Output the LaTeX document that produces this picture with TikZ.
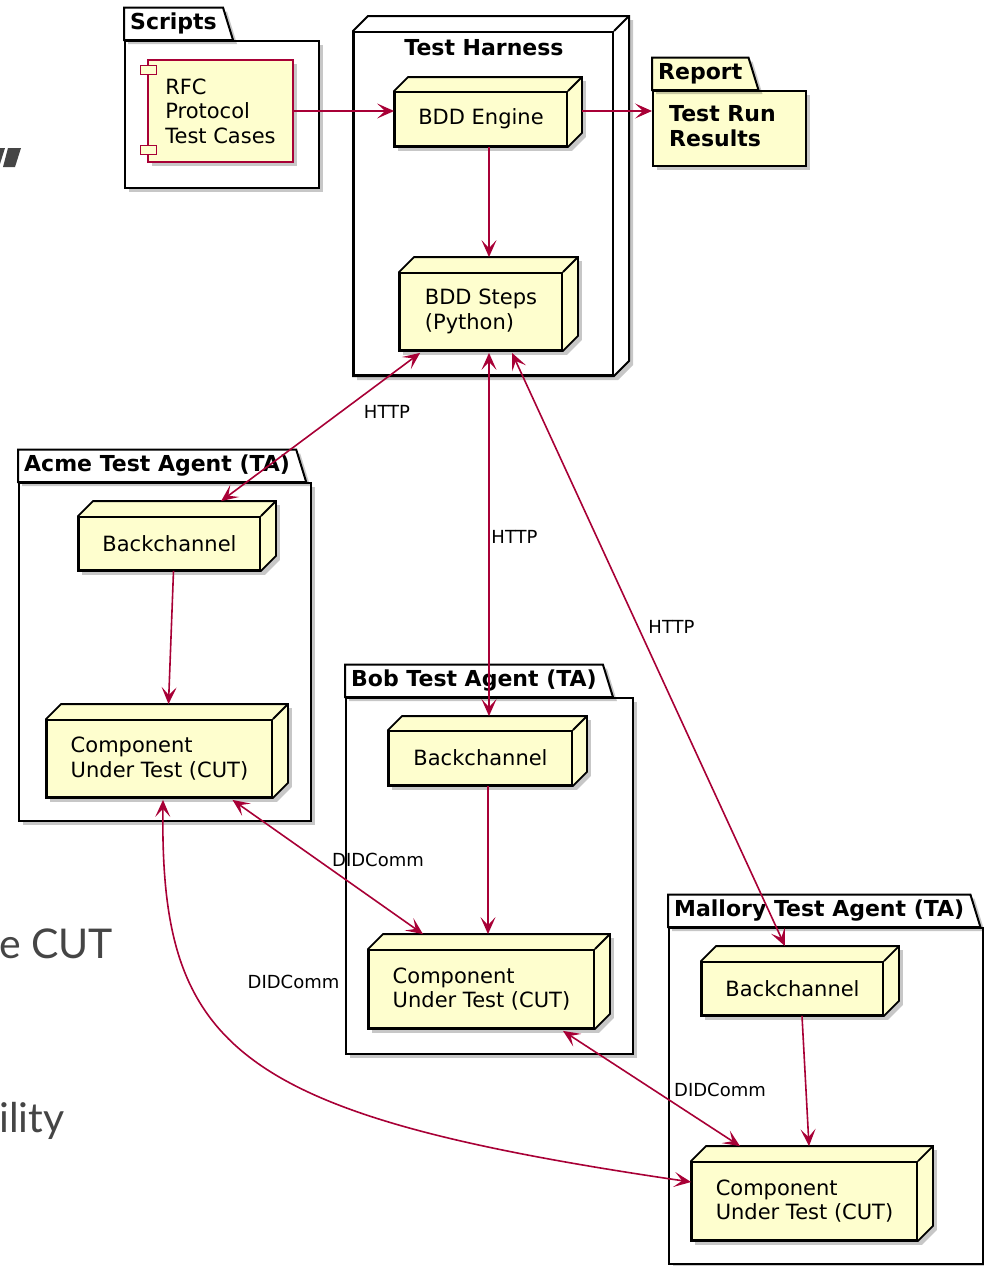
\documentclass[tikz,border=0pt]{standalone}
\usepackage{fontspec}
\setmainfont{DejaVu Sans}
\newfontfamily\slidefont{Lato}
\usetikzlibrary{arrows.meta,shadows,calc}
\definecolor{umlred}{HTML}{A80036}
\definecolor{umlfill}{HTML}{FEFECE}
\definecolor{slidegray}{HTML}{454545}
\pgfdeclarelayer{bg}
\pgfdeclarelayer{pkg}
\pgfdeclarelayer{faces}
\pgfsetlayers{bg,pkg,faces,main}
\tikzset{
  shad/.style={drop shadow={shadow xshift=4pt, shadow yshift=-4pt, opacity=0.22, fill=black}},
  cube/.style={draw=black, line width=1.8pt, fill=umlfill, font=\fontsize{21}{24.5}\selectfont, align=left, inner sep=0pt},
  cubeface/.style={draw=black, line width=1.8pt, fill=umlfill, line join=miter, shad},
  whiteface/.style={draw=black, line width=2pt, fill=white, line join=miter, shad},
  pkgbody/.style={draw=black, line width=2pt, fill=white, shad, inner sep=0pt, anchor=north west},
  pkgtab/.style={draw=black, line width=2pt, fill=white, shad, line join=miter},
  pkgtitle/.style={font=\bfseries\fontsize{22}{25}\selectfont, inner xsep=6pt, inner ysep=0pt, minimum height=32pt, anchor=south west},
  arr/.style={draw=umlred, line width=1.6pt, -{Stealth[length=17pt,width=15pt,inset=8pt]}},
  biarr/.style={draw=umlred, line width=1.6pt, {Stealth[length=17pt,width=15pt,inset=8pt]}-{Stealth[length=17pt,width=15pt,inset=8pt]}},
  lbl/.style={font=\fontsize{18}{21}\selectfont, inner sep=0pt},
  slide/.style={font=\slidefont\fontsize{41}{48}\selectfont, text=slidegray, inner sep=0pt, anchor=base west},
}
\newcommand{\cubeback}[2]{%
  \begin{pgfonlayer}{faces}
    \path[cubeface] (#1.south west) -- (#1.north west) -- ++(#2,-#2) -- ($(#1.north east)+(#2,-#2)$) -- ($(#1.south east)+(#2,-#2)$) -- (#1.south east) -- cycle;
    \draw[line width=1.8pt] (#1.north east) -- ++(#2,-#2);
  \end{pgfonlayer}}
\newcommand{\pkgframe}[2]{% title node, fill colour
  \begin{pgfonlayer}{pkg}
    \path[pkgtab, fill=#2] (#1.south west) -- (#1.north west) -- (#1.north east) -- ($(#1.south east)+(10,0)$) -- cycle;
  \end{pgfonlayer}}
\begin{document}
\begin{tikzpicture}[x=1pt,y=-1pt]
\useasboundingbox (0,0) rectangle (984,1266);

% slide fragments in the background
\fill[slidegray] (-5,148) -- (5,148) -- (-1,167) -- (-10,167) -- cycle;
\fill[slidegray] (8,148) -- (21,148) -- (15,167) -- (3,167) -- cycle;
\node[slide] (frag1) at (-1,958) {e CUT};
\node[slide] (frag2) at (-1,1132) {ility};

% ---------- packages ----------
\begin{pgfonlayer}{pkg}
  \node[pkgbody, minimum width=194pt, minimum height=147pt] (scripts) at (124,40) {};
  \node[pkgbody, minimum width=153pt, minimum height=75pt, fill=umlfill] (rep) at (652,90) {};
  \node[pkgbody, minimum width=292pt, minimum height=338pt] (acme) at (18,482) {};
  \node[pkgbody, minimum width=287pt, minimum height=356pt] (bob) at (345,697) {};
  \node[pkgbody, minimum width=314pt, minimum height=336pt] (mal) at (668,927) {};
  \node[draw=black, line width=2pt, fill=white, minimum width=259pt, minimum height=343pt, inner sep=0pt] (th) at (483.5,203.5) {};
\end{pgfonlayer}
\begin{pgfonlayer}{bg}
  \path[whiteface] (th.south west) -- (th.north west) -- ++(15,-15) -- ($(th.north east)+(15,-15)$) -- ($(th.south east)+(15,-15)$) -- (th.south east) -- cycle;
  \draw[line width=2pt] (th.north east) -- ++(15,-15);
\end{pgfonlayer}

\node[pkgtitle] (scriptsT) at (scripts.north west) {Scripts};
\node[pkgtitle] (repT) at (rep.north west) {Report};
\node[pkgtitle] (acmeT) at (acme.north west) {Acme Test Agent (TA)};
\node[pkgtitle] (bobT) at (bob.north west) {Bob Test Agent (TA)};
\node[pkgtitle] (malT) at (mal.north west) {Mallory Test Agent (TA)};
\pkgframe{scriptsT}{white}
\pkgframe{repT}{umlfill}
\pkgframe{acmeT}{white}
\pkgframe{bobT}{white}
\pkgframe{malT}{white}

\node[font=\bfseries\fontsize{22}{25}\selectfont, inner sep=0pt] (thT) at (484,48) {Test Harness};
\node[font=\bfseries\fontsize{22}{25}\selectfont, align=left, inner sep=0pt, anchor=west] (repTxt) at (669,126) {Test Run\\Results};

% ---------- component ----------
\node[draw=umlred, line width=1.6pt, fill=umlfill, shad, minimum width=145pt, minimum height=102pt, inner sep=0pt, align=left, font=\fontsize{21}{24.5}\selectfont] (rfc) at (220.5,111) {RFC\\Protocol\\Test Cases};
\draw[draw=umlred, line width=1.3pt, fill=umlfill] ($(rfc.north west)+(-7,6)$) rectangle ++(16,9);
\draw[draw=umlred, line width=1.3pt, fill=umlfill] ($(rfc.north west)+(-7,86)$) rectangle ++(16,9);

% ---------- 3D nodes ----------
\node[cube, minimum width=172pt, minimum height=54pt] (be) at (481,119) {BDD Engine};
\node[cube, minimum width=162pt, minimum height=77pt] (steps) at (481,311.5) {BDD Steps\\(Python)};
\node[cube, minimum width=181pt, minimum height=53pt] (abc) at (169.5,543.5) {Backchannel};
\node[cube, minimum width=225pt, minimum height=77pt] (acut) at (159.5,758.5) {Component\\Under Test (CUT)};
\node[cube, minimum width=183pt, minimum height=54pt] (bbc) at (480.5,758) {Backchannel};
\node[cube, minimum width=225pt, minimum height=78pt] (bcut) at (481.5,989) {Component\\Under Test (CUT)};
\node[cube, minimum width=181pt, minimum height=53pt] (mbc) at (792.5,988.5) {Backchannel};
\node[cube, minimum width=225pt, minimum height=78pt] (mcut) at (804.5,1201) {Component\\Under Test (CUT)};
\cubeback{be}{14}
\cubeback{steps}{15}
\cubeback{abc}{15}
\cubeback{acut}{15}
\cubeback{bbc}{14}
\cubeback{bcut}{15}
\cubeback{mbc}{15}
\cubeback{mcut}{15}

% ---------- connectors ----------
\draw[arr] (rfc.east) -- (rfc.east -| be.west);
\coordinate (beOut) at ($(be.east)+(14,-8)$);
\draw[arr] (beOut) -- (beOut -| rep.west);
\draw[arr] ($(be.south)+(8,0)$) -- ($(steps.north)+(8,-15)$);

\draw[biarr] ($(steps.south west)+(21,2)$) -- ($(abc.north west)+(143,-15)$);
\draw[biarr] ($(steps.south)+(8,2)$) -- ($(bbc.north)+(8.5,-14)$);
\draw[biarr] ($(steps.south)+(31,2)$) -- ($(mbc.north)+(-7.5,-15)$);
\node[lbl] (h1) at (387,412) {HTTP};
\node[lbl] (h2) at (514.5,537) {HTTP};
\node[lbl] (h3) at (671.5,627) {HTTP};

\draw[arr] ($(abc.south)+(4,0)$) -- ($(acut.north)+(9,-15)$);
\draw[arr] ($(bbc.south)+(7.5,0)$) -- ($(bcut.north)+(6.5,-15)$);
\draw[arr] ($(mbc.south)+(9.5,0)$) -- ($(mcut.north)+(4.5,-15)$);

\draw[biarr] ($(acut.south)+(73,2)$) -- ($(bcut.north)+(-58.5,-15)$);
\draw[biarr] ($(acut.south)+(3.5,2)$) .. controls (160,1050) and (235,1115) .. ($(mcut.west)+(0,-19)$);
\draw[biarr] ($(bcut.south)+(81.5,2)$) -- ($(mcut.north)+(-64.5,-15)$);
\node[lbl] (d1) at (378,860) {DIDComm};
\node[lbl] (d2) at (293.5,982) {DIDComm};
\node[lbl] (d3) at (720,1090) {DIDComm};
\end{tikzpicture}
\end{document}
